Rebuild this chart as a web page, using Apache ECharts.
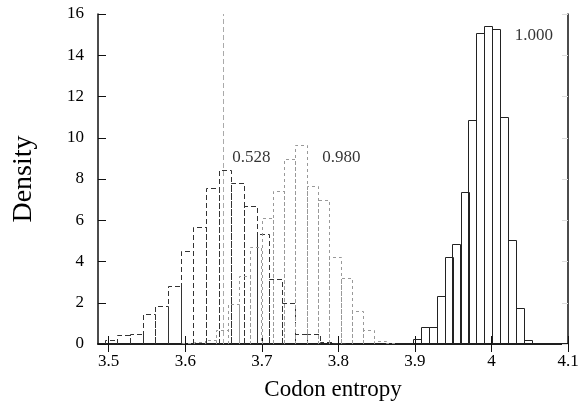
<!DOCTYPE html>
<html>
<head>
<meta charset="utf-8">
<script src="https://cdn.jsdelivr.net/npm/echarts@6/dist/echarts.min.js"></script>
<style>
  html, body { margin: 0; padding: 0; background: #fff; }
  #chart { width: 587px; height: 410px; }
</style>
</head>
<body>
<div id="chart"></div>
<script>
// x ticks
const xTicks = [3.5, 3.6, 3.7, 3.8, 3.9, 4.0, 4.1]
const xTickLabels = ['3.5', '3.6', '3.7', '3.8', '3.9', '4', '4.1']

// dashed histogram (0.528), bin left edges + heights
const darkWidth = 0.0166
const darkEdges = [3.4945, 3.5111, 3.5277, 3.5442, 3.5608, 3.5773, 3.5939, 3.6105, 3.6270, 3.6436,
  3.6601, 3.6767, 3.6933, 3.7098, 3.7264, 3.7430, 3.7595, 3.7761, 3.7926]
const darkHeights = [0.17, 0.45, 0.5, 1.47, 1.82, 2.82, 4.49, 5.67, 7.56, 8.44,
  7.8, 6.7, 5.34, 3.15, 2.0, 0.5, 0.5, 0.11, 0.05]

// dotted histogram (0.980)
const lightWidth = 0.01475
const lightEdges = [3.5963, 3.6111, 3.6258, 3.6406, 3.6553, 3.6701, 3.6848, 3.6996, 3.7143, 3.7291,
  3.7438, 3.7586, 3.7733, 3.7881, 3.8028, 3.8176, 3.8323, 3.8471, 3.8618]
const lightHeights = [0.03, 0.08, 0.2, 0.67, 1.95, 3.31, 4.7, 6.1, 7.44, 8.96,
  9.66, 7.67, 7.0, 4.2, 3.2, 1.58, 0.66, 0.15, 0.05]

// solid histogram (1.000)
const solidWidth = 0.01043
const solidEdges = [3.8761, 3.8866, 3.8970, 3.9074, 3.9178, 3.9283, 3.9387, 3.9491, 3.9596, 3.9700,
  3.9804, 3.9909, 4.0013, 4.0117, 4.0222, 4.0326, 4.0430]
const solidHeights = [0.05, 0.05, 0.24, 0.82, 0.82, 2.34, 4.21, 4.86, 7.38, 10.87,
  15.1, 15.42, 15.26, 11.0, 5.02, 1.74, 0.17]

// vertical reference line
const refLineX = 3.651

// annotation labels
const noteTexts = ['0.528', '0.980', '1.000']
const noteX = [3.6614, 3.7788, 4.0304]
const noteY = [9.03, 9.03, 14.94]

const FONT = 'Liberation Serif'

const toBins = (edges, heights, w) => edges.map((e, i) => [e, e + w, heights[i]])

const histSeries = (name, edges, heights, w, color, dash) => ({
  name: name,
  type: 'custom',
  xAxisIndex: 0,
  yAxisIndex: 0,
  clip: true,
  encode: { x: [0, 1], y: 2 },
  data: toBins(edges, heights, w),
  renderItem: (params, api) => {
    const p0 = api.coord([api.value(0), api.value(2)])
    const p1 = api.coord([api.value(1), 0])
    const x0 = Math.round(p0[0]) + 0.5
    const x1 = Math.round(p1[0]) + 0.5
    const yt = Math.round(p0[1]) + 0.5
    const yb = p1[1]
    return {
      type: 'polyline',
      shape: { points: [[x0, yb], [x0, yt], [x1, yt], [x1, yb]] },
      style: { fill: null, stroke: color, lineWidth: 1, lineDash: dash },
    }
  },
})

const chart = echarts.init(document.getElementById('chart'))
const labelFmt = (v) => {
  const i = xTicks.findIndex((t) => Math.abs(t - v) < 1e-6)
  return i >= 0 ? xTickLabels[i] : ''
}
const option = {
  animation: false,
  backgroundColor: '#fff',
  grid: { left: 98, right: 19, top: 14, bottom: 66 },
  xAxis: [
    {
      type: 'value',
      min: 3.486,
      max: 4.1,
      name: 'Codon entropy',
      nameLocation: 'middle',
      nameGap: 34,
      nameTextStyle: { fontFamily: FONT, fontSize: 23, color: '#000' },
      axisLine: { show: true, lineStyle: { color: '#111', width: 1.5 } },
      axisTick: { inside: true, length: 8, customValues: xTicks, lineStyle: { color: '#111' } },
      axisLabel: {
        customValues: xTicks,
        formatter: labelFmt,
        margin: 9,
        fontFamily: FONT,
        fontSize: 17,
        color: '#000',
      },
      splitLine: { show: false },
    },
    {
      type: 'value',
      position: 'top',
      min: 3.486,
      max: 4.1,
      axisLine: { show: true, lineStyle: { color: '#111', width: 1.5 } },
      axisTick: { inside: true, length: 8, customValues: xTicks, lineStyle: { color: '#111' } },
      axisLabel: { show: false },
      splitLine: { show: false },
    },
  ],
  yAxis: [
    {
      type: 'value',
      min: 0,
      max: 16,
      interval: 2,
      name: 'Density',
      nameLocation: 'middle',
      nameGap: 60,
      nameTextStyle: { fontFamily: FONT, fontSize: 28, color: '#000' },
      axisLine: { show: true, lineStyle: { color: '#111', width: 1.5 } },
      axisTick: { inside: true, length: 8, lineStyle: { color: '#111' } },
      axisLabel: { margin: 14, fontFamily: FONT, fontSize: 17, color: '#000' },
      splitLine: { show: false },
    },
    {
      type: 'value',
      position: 'right',
      min: 0,
      max: 16,
      interval: 2,
      axisLine: { show: true, lineStyle: { color: '#111', width: 1.5 } },
      axisTick: { inside: true, length: 6, lineStyle: { color: '#ddd' } },
      axisLabel: { show: false },
      splitLine: { show: false },
    },
  ],
  series: [
    histSeries('solid', solidEdges, solidHeights, solidWidth, '#222', null),
    histSeries('dark', darkEdges, darkHeights, darkWidth, '#333', [5, 3]),
    histSeries('light', lightEdges, lightHeights, lightWidth, '#999', [3, 3]),
    {
      type: 'scatter',
      symbolSize: 0,
      silent: true,
      data: noteX.map((x, i) => [x, noteY[i], noteTexts[i]]),
      label: {
        show: true,
        position: 'right',
        distance: 0,
        formatter: (p) => p.data[2],
        fontFamily: FONT,
        fontSize: 17,
        color: '#000',
      },
      markLine: {
        silent: true,
        symbol: 'none',
        label: { show: false },
        lineStyle: { color: '#aaa', type: [5, 3], width: 1 },
        data: [{ xAxis: refLineX }],
      },
    },
  ],
}
chart.setOption(option)
</script>
</body>
</html>
